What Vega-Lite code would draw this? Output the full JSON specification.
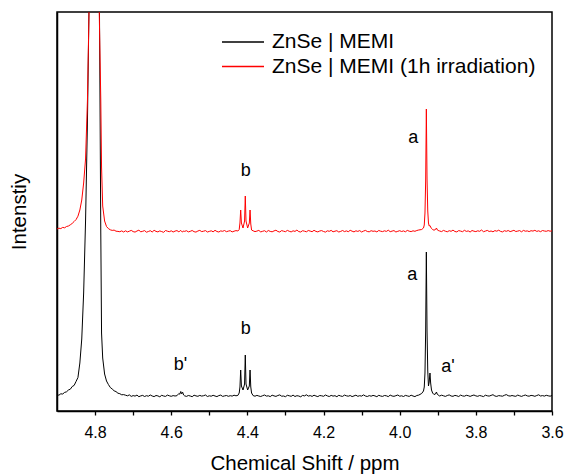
{
"$schema": "https://vega.github.io/schema/vega-lite/v6.json",
"width": 495, "height": 399,
"autosize": {"type": "none"},
"padding": {"left": 57, "top": 12, "right": 13, "bottom": 64},
"background": "#ffffff",
"config": {"view": {"stroke": "#000000", "strokeWidth": 1.5}, "font": "Liberation Sans"},
"layer": [
{
"data": {"values": [
{"ppm":4.9,"k":16.3,"r":182.0},{"ppm":4.895,"k":15.8,"r":182.8},{"ppm":4.89,"k":17.2,"r":182.4},{"ppm":4.885,"k":17.0,"r":183.6},{"ppm":4.88,"k":18.6,"r":183.2},{"ppm":4.875,"k":19.2,"r":184.5},{"ppm":4.87,"k":21.0,"r":185.0},{"ppm":4.865,"k":21.8,"r":186.2},{"ppm":4.86,"k":24.5,"r":187.6},{"ppm":4.855,"k":25.6,"r":189.5},{"ppm":4.85,"k":29.5,"r":191.4},{"ppm":4.845,"k":33.5,"r":194.8},{"ppm":4.84,"k":48,"r":201},{"ppm":4.835,"k":72,"r":211},{"ppm":4.83,"k":118,"r":228},{"ppm":4.825,"k":190,"r":252},{"ppm":4.82,"k":290,"r":311},{"ppm":4.815,"k":430,"r":420},{"ppm":4.81,"k":900,"r":900},{"ppm":4.805,"k":2500,"r":2500},{"ppm":4.8,"k":3000,"r":3000},{"ppm":4.795,"k":2000,"r":2000},{"ppm":4.79,"k":500,"r":420},{"ppm":4.785,"k":178,"r":311},{"ppm":4.783,"k":78,"r":244},{"ppm":4.78,"k":53,"r":205},{"ppm":4.775,"k":37,"r":190},{"ppm":4.77,"k":30,"r":184.5},{"ppm":4.765,"k":26.5,"r":182.4},{"ppm":4.76,"k":23.5,"r":181.2},{"ppm":4.755,"k":22.0,"r":180.6},{"ppm":4.75,"k":20.2,"r":180.9},{"ppm":4.745,"k":19.4,"r":179.8},{"ppm":4.74,"k":17.8,"r":179.6},{"ppm":4.735,"k":17.3,"r":179.3},{"ppm":4.73,"k":16.2,"r":180.1},{"ppm":4.725,"k":16.4,"r":179.0},
{"ppm":4.72,"k":15.8,"r":180.2},{"ppm":4.715,"k":15.2,"r":179.1},{"ppm":4.71,"k":16.1,"r":179.8},{"ppm":4.705,"k":14.6,"r":180.6},{"ppm":4.7,"k":15.4,"r":179.4},{"ppm":4.695,"k":14.9,"r":178.9},{"ppm":4.69,"k":15.9,"r":180.0},{"ppm":4.685,"k":14.3,"r":180.8},{"ppm":4.68,"k":15.1,"r":179.2},{"ppm":4.675,"k":15.6,"r":179.7},{"ppm":4.67,"k":14.5,"r":180.4},{"ppm":4.665,"k":15.3,"r":178.8},{"ppm":4.66,"k":14.8,"r":179.5},{"ppm":4.655,"k":16.0,"r":180.3},{"ppm":4.65,"k":15.0,"r":179.0},{"ppm":4.645,"k":14.4,"r":180.7},{"ppm":4.64,"k":15.5,"r":179.6},{"ppm":4.635,"k":15.1,"r":179.1},{"ppm":4.63,"k":14.2,"r":180.1},{"ppm":4.625,"k":15.7,"r":179.4},{"ppm":4.62,"k":15.0,"r":178.7},{"ppm":4.615,"k":14.6,"r":180.5},{"ppm":4.61,"k":15.9,"r":179.8},{"ppm":4.605,"k":15.2,"r":179.3},{"ppm":4.6,"k":14.7,"r":180.2},{"ppm":4.595,"k":15.4,"r":179.0},{"ppm":4.59,"k":15.0,"r":179.9},
{"ppm":4.585,"k":15.3,"r":180.4},{"ppm":4.58,"k":17.5,"r":179.2},{"ppm":4.5775,"k":16.8,"r":179.8},{"ppm":4.575,"k":19.5,"r":180.6},{"ppm":4.5725,"k":17.2,"r":179.4},{"ppm":4.57,"k":18.8,"r":179.0},{"ppm":4.5675,"k":16.0,"r":180.1},{"ppm":4.565,"k":15.2,"r":179.6},
{"ppm":4.56,"k":14.6,"r":180.3},{"ppm":4.555,"k":15.5,"r":179.1},{"ppm":4.55,"k":15.0,"r":179.7},{"ppm":4.545,"k":14.3,"r":180.5},{"ppm":4.54,"k":15.8,"r":179.3},{"ppm":4.535,"k":15.1,"r":178.9},{"ppm":4.53,"k":14.7,"r":180.0},{"ppm":4.525,"k":15.6,"r":180.6},{"ppm":4.52,"k":14.9,"r":179.4},{"ppm":4.515,"k":15.3,"r":179.8},{"ppm":4.51,"k":16.0,"r":180.4},{"ppm":4.505,"k":14.5,"r":179.0},{"ppm":4.5,"k":15.2,"r":179.6},{"ppm":4.495,"k":14.8,"r":180.2},{"ppm":4.49,"k":15.7,"r":179.2},{"ppm":4.485,"k":15.0,"r":180.7},{"ppm":4.48,"k":14.4,"r":179.5},{"ppm":4.475,"k":15.4,"r":179.0},{"ppm":4.47,"k":15.9,"r":180.1},{"ppm":4.465,"k":14.6,"r":179.7},{"ppm":4.46,"k":15.1,"r":180.5},{"ppm":4.455,"k":15.5,"r":179.3},{"ppm":4.45,"k":14.7,"r":179.9},{"ppm":4.445,"k":15.3,"r":180.3},{"ppm":4.44,"k":14.9,"r":179.1},{"ppm":4.435,"k":15.8,"r":179.8},{"ppm":4.43,"k":15.2,"r":180.4},{"ppm":4.425,"k":15.6,"r":180.0},
{"ppm":4.4215,"k":18,"r":181.5},{"ppm":4.4195,"k":24,"r":188},{"ppm":4.4176,"k":41,"r":201},{"ppm":4.4157,"k":25,"r":188},{"ppm":4.4115,"k":21,"r":183},{"ppm":4.4074,"k":27,"r":190},{"ppm":4.4055,"k":56,"r":215},{"ppm":4.4036,"k":27,"r":190},{"ppm":4.3993,"k":21,"r":183},{"ppm":4.3949,"k":25,"r":188},{"ppm":4.393,"k":41,"r":201},{"ppm":4.3911,"k":24,"r":187},{"ppm":4.389,"k":18,"r":181},
{"ppm":4.385,"k":15.4,"r":180.2},{"ppm":4.38,"k":14.8,"r":179.4},{"ppm":4.375,"k":15.6,"r":179.9},{"ppm":4.37,"k":15.0,"r":180.6},{"ppm":4.365,"k":14.5,"r":179.1},{"ppm":4.36,"k":15.3,"r":179.7},{"ppm":4.355,"k":16.0,"r":180.3},{"ppm":4.35,"k":14.9,"r":179.0},{"ppm":4.345,"k":15.2,"r":180.5},{"ppm":4.34,"k":14.4,"r":179.6},
{"ppm":4.335,"k":15.8,"r":179.2},{"ppm":4.33,"k":15.1,"r":180.1},{"ppm":4.325,"k":14.6,"r":180.8},{"ppm":4.32,"k":15.5,"r":179.5},{"ppm":4.315,"k":16.1,"r":179.0},{"ppm":4.31,"k":14.8,"r":180.4},{"ppm":4.305,"k":15.0,"r":179.8},{"ppm":4.3,"k":14.3,"r":179.3},{"ppm":4.295,"k":15.7,"r":180.6},{"ppm":4.29,"k":15.2,"r":179.7},
{"ppm":4.285,"k":14.7,"r":179.1},{"ppm":4.28,"k":15.9,"r":180.2},{"ppm":4.275,"k":14.5,"r":179.6},{"ppm":4.27,"k":15.3,"r":180.9},{"ppm":4.265,"k":15.0,"r":179.4},{"ppm":4.26,"k":14.2,"r":179.0},{"ppm":4.255,"k":15.6,"r":180.3},{"ppm":4.25,"k":15.1,"r":179.8},{"ppm":4.245,"k":16.2,"r":179.2},{"ppm":4.24,"k":14.9,"r":180.5},
{"ppm":4.235,"k":15.4,"r":179.9},{"ppm":4.23,"k":14.6,"r":179.3},{"ppm":4.225,"k":15.8,"r":180.7},{"ppm":4.22,"k":15.0,"r":179.6},{"ppm":4.215,"k":14.4,"r":179.1},{"ppm":4.21,"k":15.5,"r":180.0},{"ppm":4.205,"k":15.2,"r":180.4},{"ppm":4.2,"k":14.7,"r":179.5},{"ppm":4.195,"k":16.0,"r":178.9},{"ppm":4.19,"k":15.1,"r":180.2},
{"ppm":4.185,"k":14.5,"r":179.7},{"ppm":4.18,"k":15.6,"r":180.6},{"ppm":4.175,"k":14.9,"r":179.2},{"ppm":4.17,"k":15.3,"r":179.8},{"ppm":4.165,"k":14.3,"r":180.3},{"ppm":4.16,"k":15.7,"r":179.0},{"ppm":4.155,"k":15.0,"r":179.6},{"ppm":4.15,"k":14.6,"r":180.5},{"ppm":4.145,"k":15.9,"r":179.4},{"ppm":4.14,"k":15.2,"r":180.1},
{"ppm":4.135,"k":14.8,"r":179.3},{"ppm":4.13,"k":15.5,"r":180.7},{"ppm":4.125,"k":14.4,"r":179.8},{"ppm":4.12,"k":15.1,"r":179.1},{"ppm":4.115,"k":15.8,"r":180.2},{"ppm":4.11,"k":14.7,"r":179.6},{"ppm":4.105,"k":15.3,"r":180.4},{"ppm":4.1,"k":14.9,"r":179.0},{"ppm":4.095,"k":16.1,"r":179.9},{"ppm":4.09,"k":15.0,"r":180.6},
{"ppm":4.085,"k":14.5,"r":179.5},{"ppm":4.08,"k":15.4,"r":179.2},{"ppm":4.075,"k":14.8,"r":180.3},{"ppm":4.07,"k":15.6,"r":179.7},{"ppm":4.065,"k":15.1,"r":180.0},{"ppm":4.06,"k":14.3,"r":179.1},{"ppm":4.055,"k":15.7,"r":180.5},{"ppm":4.05,"k":15.0,"r":179.8},{"ppm":4.045,"k":14.6,"r":179.4},{"ppm":4.04,"k":15.5,"r":180.2},
{"ppm":4.035,"k":15.2,"r":179.6},{"ppm":4.03,"k":14.4,"r":180.8},{"ppm":4.025,"k":15.9,"r":179.3},{"ppm":4.02,"k":15.0,"r":179.9},{"ppm":4.015,"k":14.7,"r":180.4},{"ppm":4.01,"k":15.3,"r":179.0},{"ppm":4.005,"k":16.0,"r":179.7},{"ppm":4.0,"k":14.8,"r":180.3},{"ppm":3.995,"k":15.2,"r":179.5},{"ppm":3.99,"k":14.5,"r":180.1},
{"ppm":3.985,"k":15.6,"r":179.2},{"ppm":3.98,"k":15.1,"r":180.6},{"ppm":3.975,"k":14.6,"r":179.8},{"ppm":3.97,"k":15.8,"r":179.4},{"ppm":3.965,"k":15.0,"r":180.2},{"ppm":3.96,"k":14.4,"r":179.7},{"ppm":3.955,"k":15.5,"r":180.5},{"ppm":3.95,"k":15.9,"r":181.0},
{"ppm":3.9423,"k":17.5,"r":181.5},{"ppm":3.9375,"k":20,"r":183},{"ppm":3.9355,"k":24,"r":186},{"ppm":3.9336,"k":38,"r":198},{"ppm":3.9318,"k":80,"r":230},{"ppm":3.93,"k":159,"r":302},{"ppm":3.9282,"k":80,"r":232},{"ppm":3.9263,"k":40,"r":200},{"ppm":3.9244,"k":25,"r":188},{"ppm":3.9225,"k":29,"r":185},{"ppm":3.9205,"k":38,"r":185.5},{"ppm":3.9187,"k":28,"r":184},{"ppm":3.9165,"k":21,"r":182.5},{"ppm":3.9135,"k":18,"r":181.5},{"ppm":3.91,"k":16.5,"r":180.8},{"ppm":3.906,"k":17,"r":181.5},{"ppm":3.9035,"k":19,"r":183},{"ppm":3.901,"k":16.6,"r":181},{"ppm":3.897,"k":15.5,"r":180.2},
{"ppm":3.895,"k":15.0,"r":180.0},{"ppm":3.89,"k":15.8,"r":179.4},{"ppm":3.885,"k":15.2,"r":180.6},{"ppm":3.88,"k":14.6,"r":179.8},{"ppm":3.875,"k":15.5,"r":179.2},{"ppm":3.87,"k":16.1,"r":180.3},{"ppm":3.865,"k":15.0,"r":179.7},{"ppm":3.86,"k":14.7,"r":180.9},{"ppm":3.855,"k":15.6,"r":179.5},{"ppm":3.85,"k":15.2,"r":179.1},
{"ppm":3.845,"k":14.5,"r":180.4},{"ppm":3.84,"k":15.9,"r":179.9},{"ppm":3.835,"k":15.1,"r":179.3},{"ppm":3.83,"k":14.8,"r":180.7},{"ppm":3.825,"k":15.7,"r":179.6},{"ppm":3.82,"k":15.3,"r":180.1},{"ppm":3.815,"k":14.6,"r":179.0},{"ppm":3.81,"k":15.4,"r":180.5},{"ppm":3.805,"k":16.0,"r":179.8},{"ppm":3.8,"k":15.1,"r":179.4},
{"ppm":3.795,"k":14.7,"r":180.2},{"ppm":3.79,"k":15.5,"r":179.7},{"ppm":3.785,"k":15.0,"r":181.0},{"ppm":3.78,"k":14.4,"r":179.3},{"ppm":3.775,"k":15.8,"r":179.9},{"ppm":3.77,"k":15.2,"r":180.6},{"ppm":3.765,"k":14.9,"r":179.5},{"ppm":3.76,"k":15.6,"r":180.0},{"ppm":3.755,"k":16.3,"r":179.2},{"ppm":3.75,"k":15.0,"r":180.4},
{"ppm":3.745,"k":14.6,"r":179.8},{"ppm":3.74,"k":15.4,"r":180.8},{"ppm":3.735,"k":15.1,"r":179.6},{"ppm":3.73,"k":14.8,"r":179.1},{"ppm":3.725,"k":15.7,"r":180.3},{"ppm":3.72,"k":16.4,"r":179.7},{"ppm":3.715,"k":15.3,"r":180.5},{"ppm":3.71,"k":14.9,"r":179.4},{"ppm":3.705,"k":15.5,"r":180.0},{"ppm":3.7,"k":15.0,"r":180.7},
{"ppm":3.695,"k":14.7,"r":179.5},{"ppm":3.69,"k":15.9,"r":179.9},{"ppm":3.685,"k":15.2,"r":180.4},{"ppm":3.68,"k":14.6,"r":179.2},{"ppm":3.675,"k":15.4,"r":180.6},{"ppm":3.67,"k":16.0,"r":179.8},{"ppm":3.665,"k":15.1,"r":180.1},{"ppm":3.66,"k":14.8,"r":179.4},{"ppm":3.655,"k":15.6,"r":180.3},{"ppm":3.65,"k":15.3,"r":179.9},
{"ppm":3.645,"k":14.7,"r":180.7},{"ppm":3.64,"k":15.5,"r":179.6},{"ppm":3.635,"k":16.2,"r":180.2},{"ppm":3.63,"k":15.0,"r":179.3},{"ppm":3.625,"k":15.4,"r":180.5},{"ppm":3.62,"k":14.9,"r":180.0},{"ppm":3.615,"k":15.7,"r":179.7},{"ppm":3.61,"k":15.2,"r":180.4},{"ppm":3.605,"k":14.8,"r":179.8},{"ppm":3.6,"k":15.5,"r":180.2}
]},
"transform": [{"fold": ["k", "r"], "as": ["series", "intensity"]}],
"mark": {"type": "line", "clip": true, "strokeWidth": 1},
"encoding": {
"x": {"field": "ppm", "type": "quantitative",
 "scale": {"domain": [3.6, 4.9], "reverse": true, "nice": false, "zero": false},
 "axis": {"title": "Chemical Shift / ppm", "values": [4.8,4.7,4.6,4.5,4.4,4.3,4.2,4.1,4.0,3.9,3.8,3.7,3.6],
  "labelExpr": "round(datum.value*10) % 2 == 0 ? format(datum.value, '.1f') : ''",
  "grid": false, "tickSize": 4, "tickColor": "#000000", "tickWidth": 1.3, "domainColor": "#000000", "domainWidth": 1.5,
  "labelFontSize": 16, "labelColor": "#000000", "labelPadding": 9, "labelFlush": false, "labelOverlap": false, "labelFont": "Liberation Sans",
  "titleFontSize": 20.5, "titleFontWeight": "normal", "titleColor": "#000000", "titlePadding": 13, "titleFont": "Liberation Sans"}},
"y": {"field": "intensity", "type": "quantitative",
 "scale": {"domain": [0, 399], "nice": false, "zero": false},
 "axis": {"title": "Intenstiy", "labels": false, "ticks": false, "grid": false, "minExtent": 0,
  "domainColor": "#000000", "domainWidth": 1.5,
  "titleFontSize": 20.5, "titleFontWeight": "normal", "titleColor": "#000000", "titlePadding": 28, "titleFont": "Liberation Sans"}},
"color": {"field": "series", "type": "nominal",
 "scale": {"domain": ["k", "r"], "range": ["#000000", "#ff0000"]},
 "legend": {"title": null, "orient": "none", "legendX": 164, "legendY": 20, "padding": 0,
  "symbolType": "stroke", "symbolSize": 1764, "symbolStrokeWidth": 1.5, "clipHeight": 20,
  "labelFontSize": 21, "labelFont": "Liberation Sans", "labelColor": "#000000", "labelOffset": 7, "rowPadding": 3.5,
  "labelLimit": 400,
  "labelExpr": "datum.value == 'k' ? 'ZnSe | MEMI' : 'ZnSe | MEMI (1h irradiation)'"}}
}
},
{
"data": {"values": [
{"ppm": 3.9643, "intensity": 267.7, "label": "a"},
{"ppm": 3.9672, "intensity": 131, "label": "a"},
{"ppm": 3.8732, "intensity": 39.3, "label": "a'"},
{"ppm": 4.4042, "intensity": 235, "label": "b"},
{"ppm": 4.4042, "intensity": 77, "label": "b"},
{"ppm": 4.5757, "intensity": 41, "label": "b'"}
]},
"mark": {"type": "text", "fontSize": 18, "font": "Liberation Sans", "color": "#000000", "align": "center", "baseline": "alphabetic"},
"encoding": {
"x": {"field": "ppm", "type": "quantitative"},
"y": {"field": "intensity", "type": "quantitative"},
"text": {"field": "label"}
}
}
]
}
